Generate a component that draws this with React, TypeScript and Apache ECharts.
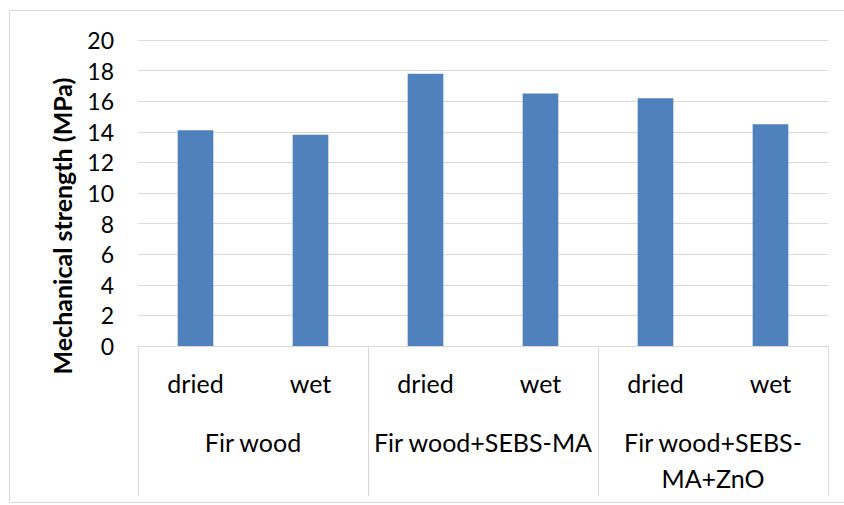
import React, { useEffect, useRef } from "react";
import * as echarts from "echarts";

const conditions = ["dried", "wet", "dried", "wet", "dried", "wet"];
const groups = ["Fir wood", "Fir wood+SEBS-MA", "Fir wood+SEBS-MA+ZnO"];
const groupLabels = ["Fir wood", "Fir wood+SEBS-MA", "Fir wood+SEBS-\nMA+ZnO"];
const strength = [14.1, 13.8, 17.8, 16.5, 16.2, 14.5];
const yTicks = { min: 0, max: 20, interval: 2 };
const yTitle = "Mechanical strength (MPa)";

const FONT = "Lato";

export default function App() {
  const ref = useRef<HTMLDivElement>(null);
  useEffect(() => {
    if (!ref.current) return;
    const chart = echarts.init(ref.current, undefined, { renderer: "svg" });
    chart.setOption({
      animation: false,
      backgroundColor: "#ffffff",
      textStyle: { fontFamily: FONT },
      graphic: [
        {
          type: "rect",
          shape: { x: 9.5, y: 10.5, width: 845, height: 492 },
          style: { fill: "none", stroke: "#D9D9D9", lineWidth: 1 },
          silent: true,
        },
        {
          type: "text",
          x: 62,
          y: 226,
          rotation: Math.PI / 2,
          style: {
            text: yTitle,
            fontSize: 25,
            fontWeight: "bold",
            fontFamily: FONT,
            fill: "#000000",
            align: "center",
            verticalAlign: "middle",
          },
          silent: true,
        },
      ],
      grid: { left: 138, right: 16, top: 40, bottom: 159, containLabel: false },
      xAxis: [
        {
          type: "category",
          data: conditions,
          position: "bottom",
          axisLine: { show: true, lineStyle: { color: "#D9D9D9", width: 1 } },
          axisTick: { show: false },
          axisLabel: {
            interval: 0,
            margin: 24,
            fontSize: 25,
            color: "#000000",
            fontFamily: FONT,
          },
          splitLine: { show: false },
        },
        {
          type: "category",
          data: groups,
          position: "bottom",
          axisLine: { show: false },
          axisTick: {
            show: true,
            interval: 0,
            length: 150,
            lineStyle: { color: "#D9D9D9", width: 1 },
          },
          axisLabel: {
            interval: 0,
            margin: 78,
            fontSize: 25,
            lineHeight: 36,
            color: "#000000",
            fontFamily: FONT,
            formatter: (_v: string, i: number) => groupLabels[i],
          },
          splitLine: { show: false },
        },
      ],
      yAxis: {
        type: "value",
        min: yTicks.min,
        max: yTicks.max,
        interval: yTicks.interval,
        axisLine: { show: false },
        axisTick: { show: false },
        axisLabel: { fontSize: 23, color: "#000000", margin: 24, fontFamily: FONT },
        splitLine: { show: true, lineStyle: { color: "#D9D9D9", width: 1 } },
      },
      series: [
        {
          type: "bar",
          xAxisIndex: 0,
          data: strength,
          barWidth: "31%",
          itemStyle: { color: "#4F81BD" },
        },
      ],
    });
    return () => chart.dispose();
  }, []);
  return (
    <div
      ref={ref}
      style={{ position: "fixed", left: 0, top: 0, width: 844, height: 505 }}
    />
  );
}
